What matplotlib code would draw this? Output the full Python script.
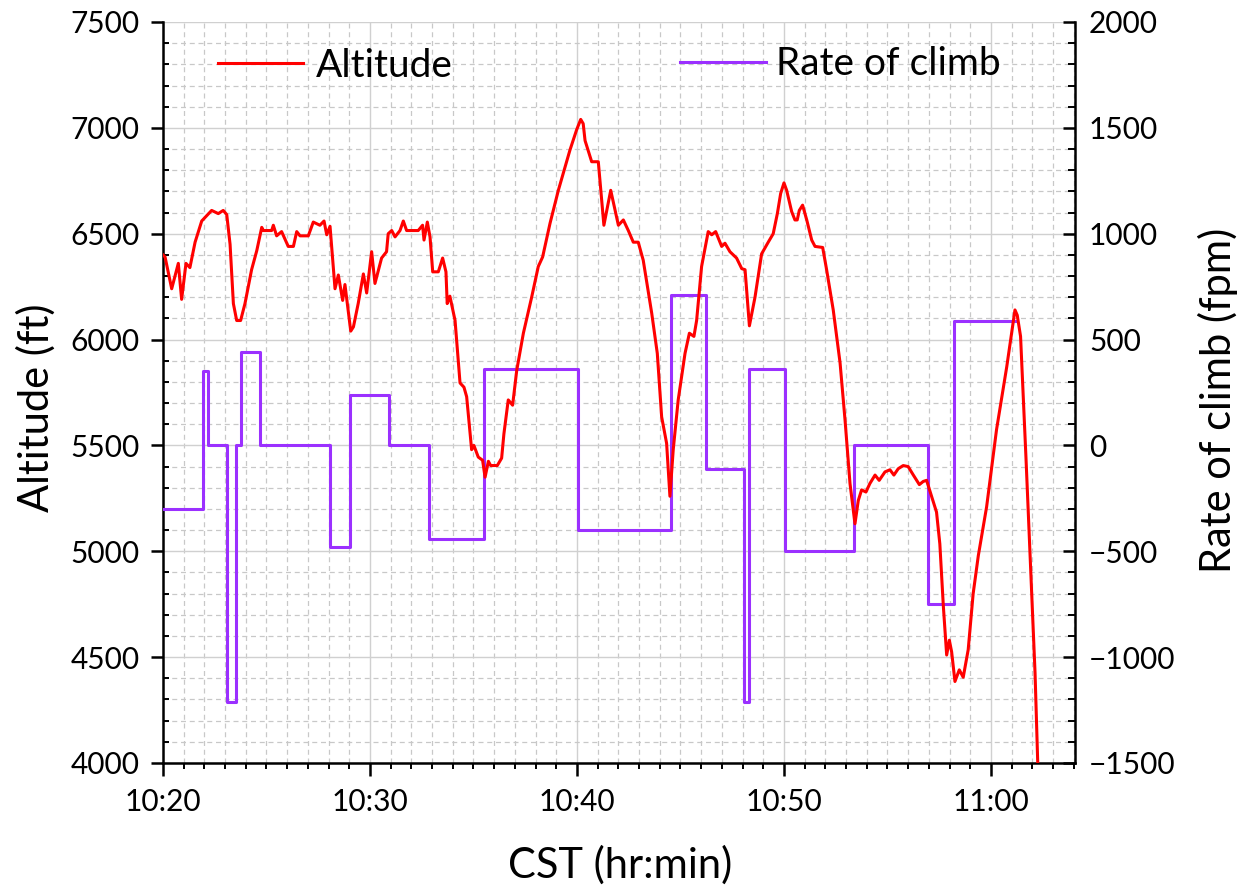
import matplotlib
matplotlib.use("Agg")
import matplotlib.pyplot as plt
from matplotlib.ticker import MultipleLocator, FuncFormatter

plt.rcParams['font.family'] = ['Lato', 'DejaVu Sans']

# altitude trace, minutes after 10:20 and feet
alt_t = [0.00, 0.10, 0.42, 0.74, 0.90, 1.11, 1.30, 1.55, 1.87, 2.35, 2.67, 2.91, 3.08, 3.24,
         3.40, 3.56, 3.75, 3.96, 4.28, 4.53, 4.77, 4.85, 5.25, 5.33, 5.49, 5.73, 6.05, 6.30,
         6.46, 6.62, 7.02, 7.26, 7.58, 7.78, 7.91, 8.07, 8.31, 8.47, 8.68, 8.79, 9.07, 9.20,
         9.43, 9.68, 9.84, 10.08, 10.24, 10.56, 10.80, 10.88, 11.05, 11.21, 11.45, 11.61,
         11.77, 12.33, 12.54, 12.61, 12.77, 12.90, 13.03, 13.30, 13.51, 13.67, 13.73, 13.86,
         14.11, 14.35, 14.54, 14.67, 14.91, 15.02, 15.23, 15.44, 15.56, 15.72, 15.83, 16.15,
         16.36, 16.47, 16.68, 16.89, 17.09, 17.41, 17.81, 18.13, 18.34, 18.70, 19.10, 19.66,
         19.98, 20.18, 20.30, 20.39, 20.71, 21.03, 21.30, 21.63, 22.00, 22.24, 22.48, 22.72,
         22.96, 23.20, 23.61, 23.88, 24.09, 24.33, 24.49, 24.65, 24.89, 25.22, 25.43, 25.65,
         25.78, 26.02, 26.34, 26.51, 26.70, 26.99, 27.15, 27.39, 27.71, 27.96, 28.12, 28.33,
         28.60, 28.92, 29.24, 29.48, 29.68, 29.84, 30.00, 30.13, 30.37, 30.53, 30.64, 30.74,
         30.90, 31.10, 31.34, 31.50, 31.87, 32.06, 32.38, 32.71, 32.95, 33.19, 33.43, 33.59,
         33.75, 33.96, 34.15, 34.40, 34.60, 34.88, 35.12, 35.31, 35.52, 35.76, 36.00, 36.25,
         36.54, 36.73, 36.89, 37.13, 37.37, 37.53, 37.70, 37.86, 37.99, 38.10, 38.26, 38.47,
         38.66, 38.90, 39.14, 39.39, 39.79, 40.27, 40.76, 41.00, 41.16, 41.27, 41.43, 41.69,
         41.96, 42.13, 42.26, 42.30]
alt_ft = [6400, 6390, 6240, 6360, 6190, 6360, 6340, 6460, 6560, 6610, 6595, 6610, 6590, 6450,
          6170, 6090, 6090, 6170, 6330, 6420, 6530, 6515, 6515, 6540, 6490, 6510, 6440, 6440,
          6510, 6490, 6490, 6555, 6540, 6560, 6495, 6535, 6240, 6305, 6185, 6260, 6040, 6060,
          6170, 6310, 6220, 6415, 6265, 6385, 6415, 6500, 6515, 6485, 6515, 6560,
          6515, 6515, 6540, 6470, 6555, 6485, 6320, 6320, 6385, 6320, 6170, 6205,
          6090, 5795, 5775, 5730, 5480, 5500, 5445, 5430, 5350, 5425, 5405, 5405,
          5440, 5555, 5715, 5690, 5855, 6030, 6200, 6345, 6390, 6550, 6705, 6895,
          6990, 7040, 7020, 6940, 6840, 6840, 6540, 6705, 6540, 6565, 6515, 6460,
          6460, 6375, 6125, 5935, 5635, 5510, 5260, 5480, 5715, 5935, 6030, 6015,
          6090, 6345, 6510, 6495, 6510, 6440, 6455, 6415, 6385, 6335, 6330, 6065,
          6200, 6405, 6460, 6500, 6595, 6690, 6740, 6705, 6605, 6565, 6565, 6610,
          6635, 6565, 6470, 6440, 6435, 6330, 6140, 5890, 5620, 5320, 5130, 5240,
          5290, 5280, 5320, 5360, 5335, 5375, 5385, 5360, 5390, 5405, 5400, 5360,
          5315, 5330, 5335, 5260, 5185, 5035, 4740, 4510, 4580, 4525, 4385, 4440,
          4405, 4535, 4800, 4980, 5210, 5575, 5870, 6030, 6140, 6115, 6015, 5445,
          4815, 4425, 4000, 3900]

# rate of climb steps (value holds from each edge to the next)
roc_t = [0.00, 1.92, 2.19, 3.08, 3.51, 3.75, 4.69, 8.07, 9.05, 10.92, 12.87, 15.52, 20.06,
         24.53, 26.23, 28.07, 28.31, 30.05, 33.38, 36.94, 38.21, 41.16]
roc_fpm = [-300, 350, 0, -1210, 0, 440, 0, -480, 240, 0, -440, 360, -400,
           710, -110, -1210, 360, -500, 0, -750, 590, 590]

red = '#ff0000'
purple = '#9b30ff'

fig = plt.figure(figsize=(12.5, 8.92), dpi=100)
ax = fig.add_axes([163 / 1250, 1 - 763 / 892, 912 / 1250, 741 / 892])
ax2 = ax.twinx()

l_roc, = ax2.step(roc_t, roc_fpm, where='post', color=purple, lw=2.2, label='Rate of climb')
# altitude drawn in ax2 so it sits above the step line, but on the left scale
l_alt, = ax2.plot(alt_t, alt_ft, color=red, lw=2.2, transform=ax.transData, label='Altitude')

ax.set_xlim(0, 44.06)
ax.set_ylim(4000, 7500)
ax2.set_ylim(-1500, 2000)

ax.xaxis.set_major_locator(MultipleLocator(10))
ax.xaxis.set_minor_locator(MultipleLocator(1))
ax.xaxis.set_major_formatter(FuncFormatter(
    lambda v, p: f"{10 + int((20 + v) // 60)}:{int((20 + v) % 60):02d}"))
ax.yaxis.set_major_locator(MultipleLocator(500))
ax.yaxis.set_minor_locator(MultipleLocator(100))
ax2.yaxis.set_major_locator(MultipleLocator(500))
ax2.yaxis.set_minor_locator(MultipleLocator(100))
ax2.yaxis.set_major_formatter(FuncFormatter(lambda v, p: f"{int(v)}".replace('-', '\u2212')))

ax.grid(which='major', color='#d0d0d0', lw=1.0, ls='-')
ax.grid(which='minor', color='#c8c8c8', lw=0.9, ls=(0, (4, 3)))
ax.set_axisbelow(True)

for s in ['top', 'right']:
    ax.spines[s].set_visible(False)
for s in ['top', 'left', 'bottom']:
    ax2.spines[s].set_visible(False)
for s in ['left', 'bottom']:
    ax.spines[s].set_linewidth(1.8)
ax2.spines['right'].set_linewidth(1.8)

ax.tick_params(axis='y', which='major', direction='out', length=9, width=1.8, labelsize=21.5, pad=8)
ax.tick_params(axis='y', which='minor', direction='in', length=4, width=1.4)
ax.tick_params(axis='x', which='major', direction='out', length=9, width=1.8, labelsize=21.5, pad=9)
ax.tick_params(axis='x', which='minor', direction='out', length=4.5, width=1.4)
ax2.tick_params(axis='y', which='major', direction='in', length=9, width=1.8, labelsize=21.5, pad=10)
ax2.tick_params(axis='y', which='minor', direction='in', length=5, width=1.4)

ax.set_ylabel('Altitude (ft)', fontsize=30, va='center', ha='center')
ax.yaxis.set_label_coords(-0.139, 0.479)
ax2.set_ylabel('Rate of climb (fpm)', fontsize=30, va='center', ha='center')
ax2.yaxis.set_label_coords(1.1568, 0.49)
ax.set_xlabel('CST (hr:min)', fontsize=30, va='center', ha='center')
ax.xaxis.set_label_coords(0.501, -0.1377)

leg1 = ax2.legend(handles=[l_alt], loc='upper left', bbox_to_anchor=(0.06, 0.965),
                  frameon=False, fontsize=28, handlelength=2.2, handletextpad=0.33,
                  borderpad=0, borderaxespad=0)
ax2.add_artist(leg1)
ax2.legend(handles=[l_roc], loc='upper left', bbox_to_anchor=(0.567, 0.967),
           frameon=False, fontsize=28, handlelength=2.2, handletextpad=0.27,
           borderpad=0, borderaxespad=0)

fig.savefig('out.png', dpi=100)
